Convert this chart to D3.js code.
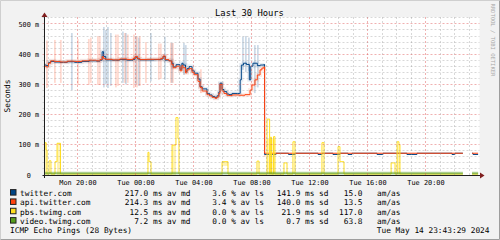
<!DOCTYPE html>
<html>
<head>
<meta charset="utf-8">
<script src="https://cdn.jsdelivr.net/npm/d3@7"></script>
<style>
  html, body { margin: 0; padding: 0; background: #f2f2f2; }
  svg { display: block; }
  text { font-family: "DejaVu Sans Mono", monospace; white-space: pre; }
</style>
</head>
<body>
<svg id="chart" width="500" height="240"></svg>
<script>
// time is in hours counted from Mon 00:00 (graph ends Tue 23:43:29)
var timeDomain = [17.725, 47.725];
var yMax = 523;

var xTickHours = [20, 24, 28, 32, 36, 40, 44];
var xTickLabels = ["Mon 20:00", "Tue 00:00", "Tue 04:00", "Tue 08:00", "Tue 12:00", "Tue 16:00", "Tue 20:00"];
var yTicks = [0, 100, 200, 300, 400, 500];
var yTickLabels = ["0  ", "100 m", "200 m", "300 m", "400 m", "500 m"];

// median lines [hour, ms]
var twitterMedian = [
  [17.73,364],[17.85,362],[18.00,372],[18.15,376],[18.40,374],[18.80,373],[19.30,375],[19.80,373],
  [20.30,376],[20.80,378],[21.30,377],[21.55,380],[21.70,408],[21.80,392],[21.95,381],[22.40,380],
  [22.90,382],[23.40,380],[23.83,383],[23.97,390],[24.15,384],[24.31,381],[24.80,381],[25.30,382],
  [25.75,384],[25.90,392],[26.05,380],[26.30,378],[26.50,370],[26.60,358],[26.80,365],[27.07,350],
  [27.20,370],[27.28,364],[27.45,342],[27.55,352],[27.70,359],[27.90,345],[28.05,337],[28.31,318],
  [28.45,292],[28.60,285],[28.93,270],[29.10,265],[29.28,260],[29.48,256],[29.62,262],[29.75,275],
  [29.83,304],[29.97,283],[30.10,276],[30.30,268],[30.45,266],[30.66,270],[31.15,270],[31.22,315],
  [31.30,364],[31.45,370],[31.65,366],[31.85,315],[31.95,360],[32.10,370],[32.40,362],[32.60,364],
  [32.86,366],[32.90,68],[33.69,72],[34.55,68],[35.00,72],[36.59,68],[36.86,72],[37.62,68],
  [38.10,72],[38.66,68],[38.93,72],[40.66,68],[41.07,72],[42.72,68],[43.41,72],[45.83,68],
  [46.03,72],[46.58,72],[46.59,null],[47.21,72],[47.28,68],[47.63,68],[47.64,null]
];
var apiMedian = [
  [17.73,360],[17.85,358],[18.00,370],[18.15,378],[18.40,376],[18.80,374],[19.30,377],[19.80,376],
  [20.30,378],[20.80,380],[21.30,378],[21.55,382],[21.70,392],[21.80,385],[21.95,383],[22.40,381],
  [22.90,384],[23.40,382],[23.83,386],[23.97,392],[24.15,385],[24.31,382],[24.80,383],[25.30,383],
  [25.75,386],[25.90,394],[26.05,382],[26.30,378],[26.50,366],[26.60,355],[26.80,360],[27.07,345],
  [27.20,362],[27.28,355],[27.45,338],[27.55,348],[27.70,352],[27.90,340],[28.05,332],[28.31,310],
  [28.45,290],[28.60,278],[28.93,266],[29.10,262],[29.28,257],[29.48,254],[29.62,258],[29.75,270],
  [29.83,300],[29.97,278],[30.10,270],[30.30,264],[30.45,263],[30.66,265],[31.15,264],[31.55,266],
  [31.90,281],[32.03,298],[32.24,315],[32.40,331],[32.59,348],[32.72,354],[32.86,358],[32.90,72],
  [46.58,72],[46.59,null],[47.21,72],[47.63,72],[47.64,null]
];
var pbsMedian = [
  [17.73,107],[17.83,83],[17.90,3],[18.04,47],[18.17,3],[18.45,44],[18.59,105],[18.83,3],
  [24.86,75],[24.93,44],[25.07,3],[26.52,99],[26.79,190],[26.93,120],[27.00,3],[29.97,44],
  [30.38,3],[32.38,46],[32.52,3],[33.07,185],[33.25,3],[33.30,125],[33.38,3],[33.52,127],
  [33.62,3],[34.24,40],[34.45,3],[34.86,110],[35.00,3],[36.86,107],[37.00,3],[37.97,94],
  [38.10,44],[38.38,3],[41.63,40],[41.90,3],[42.04,110],[42.17,100],[42.24,3],[46.58,3],
  [46.59,null],[47.21,3],[47.63,3],[47.64,null]
];
var videoMedian = [[17.73,6],[46.58,6],[46.59,null],[47.21,6],[47.63,6],[47.64,null]];

// smoke: [hour, lo ms, hi ms]
var twitterSmoke = [
  [19.55,281,470],[21.76,290,490],[21.90,300,480],[22.04,288,490],[22.24,295,470],[23.07,305,475],
  [23.28,300,470],[23.97,300,460],[24.17,295,455],[25.00,310,470],[25.97,315,458],[26.45,305,437],
  [27.28,331,437],[27.41,340,430],[31.35,348,458],[31.55,340,460],[31.76,345,455],[32.17,271,430],
  [32.38,290,430]
];
var apiSmoke = [
  [17.83,288,445],[18.38,305,447],[18.79,305,447],[19.97,298,450],[20.72,298,450],[20.86,305,455],
  [21.35,298,460],[21.48,298,460],[22.59,290,465],[22.73,295,465],[23.21,305,470],[23.41,305,465],
  [23.83,288,465],[24.04,290,460],[24.24,295,460],[24.66,305,440],[25.55,315,435],[25.69,318,435],
  [26.38,305,437],[26.52,305,437],[28.45,271,350],[32.86,60,358]
];
// smoke spans: [from hour, to hour, lo ms, hi ms]
var pbsSmoke = [
  [17.73,17.90,0,107],[18.59,18.83,0,105],[26.52,26.79,0,99],[29.97,30.38,30,44],
  [33.07,33.62,0,120],[42.04,42.24,0,100]
];
var videoSmoke = [[17.73,46.58,1,11],[47.21,47.63,1,11]];

var legendNames = ["twitter.com", "api.twitter.com", "pbs.twimg.com", "video.twimg.com"];
var legendColors = ["#004586", "#ff420e", "#ffde20", "#579d1c"];
var legendMedian = ["217.0", "214.3", "12.5", "7.2"];
var legendLoss = ["3.6", "3.4", "0.0", "0.0"];
var legendSd = ["141.9", "140.0", "21.9", "0.7"];
var legendAmAs = ["15.0", "13.5", "117.0", "63.8"];

var svg = d3.select("#chart");
var plotLeft = 44.5, plotRight = 479.5, plotTop = 17, plotBottom = 175;

var x = d3.scaleLinear().domain(timeDomain).range([plotLeft, plotRight]);
var y = d3.scaleLinear().domain([0, yMax]).range([plotBottom, plotTop]);

//background and shading
svg.append("rect").attr("width", 500).attr("height", 240).attr("fill", "#f2f2f2");
svg.append("path").attr("d", "M0.5,239.5V0.5H499.5").attr("fill", "none").attr("stroke", "#cfcfcf");
svg.append("path").attr("d", "M0.5,239.5H499.5V0.5").attr("fill", "none").attr("stroke", "#9e9e9e");
svg.append("rect").attr("x", plotLeft).attr("y", plotTop)
  .attr("width", plotRight - plotLeft).attr("height", plotBottom - plotTop).attr("fill", "#fff");

svg.append("clipPath").attr("id", "plot")
  .append("rect").attr("x", plotLeft).attr("y", plotTop)
  .attr("width", plotRight - plotLeft).attr("height", plotBottom - plotTop + 1);
var plot = svg.append("g").attr("clip-path", "url(#plot)");

var line = d3.line()
  .defined(function(d) { return d[1] != null; })
  .x(function(d) { return x(d[0]); })
  .y(function(d) { return y(d[1]); })
  .curve(d3.curveStepAfter);

var barW = x(timeDomain[0] + 0.12) - x(timeDomain[0]);

function drawSmoke(data, color, op) {
  plot.append("g").selectAll("rect")
    .data(data).enter().append("rect")
    .attr("x", function(d) { return x(d[0]); })
    .attr("width", barW)
    .attr("y", function(d) { return y(d[2]); })
    .attr("height", function(d) { return y(d[1]) - y(d[2]); })
    .attr("fill", color).attr("opacity", op);
}
function drawSpans(data, color, op) {
  plot.append("g").selectAll("rect")
    .data(data).enter().append("rect")
    .attr("x", function(d) { return x(d[0]); })
    .attr("width", function(d) { return x(d[1]) - x(d[0]); })
    .attr("y", function(d) { return y(d[3]); })
    .attr("height", function(d) { return y(d[2]) - y(d[3]); })
    .attr("fill", color).attr("opacity", op);
}
function drawLine(data, color, w, op) {
  plot.append("path").datum(data)
    .attr("d", line).attr("fill", "none")
    .attr("stroke", color).attr("stroke-width", w).attr("opacity", op);
}
//the noisy morning part gets a soft smoke halo round its median
function busy(data) {
  return data.filter(function(d) { return d[1] != null && d[1] > 150; });
}

drawSmoke(twitterSmoke, legendColors[0], 0.2);
drawSmoke(apiSmoke, legendColors[1], 0.2);
drawLine(busy(twitterMedian), legendColors[0], 4, 0.1);
drawLine(busy(apiMedian), legendColors[1], 4, 0.1);
drawLine(twitterMedian, legendColors[0], 1, 1);
drawLine(apiMedian, legendColors[1], 1, 1);
drawSpans(pbsSmoke, legendColors[2], 0.35);
drawLine(pbsMedian, legendColors[2], 1, 1);
drawSpans(videoSmoke, legendColors[3], 0.35);
drawLine(videoMedian, legendColors[3], 1, 0.7);

//grid on top, rrdtool style
var grid = svg.append("g");
var hours = d3.range(18, 48);
grid.selectAll("line.vx")
  .data(hours).enter().append("line")
  .attr("x1", function(d) { return Math.round(x(d)) + 0.5; })
  .attr("x2", function(d) { return Math.round(x(d)) + 0.5; })
  .attr("y1", plotTop).attr("y2", plotBottom + 2)
  .attr("stroke", function(d) { return d % 4 == 0 ? "rgba(222,79,79,0.45)" : "rgba(143,143,143,0.35)"; })
  .attr("stroke-dasharray", "2,2");
var levels = d3.range(20, 521, 20);
grid.selectAll("line.hy")
  .data(levels).enter().append("line")
  .attr("x1", plotLeft - 2).attr("x2", plotRight)
  .attr("y1", function(d) { return Math.floor(y(d)) + 0.5; })
  .attr("y2", function(d) { return Math.floor(y(d)) + 0.5; })
  .attr("stroke", function(d) { return d % 100 == 0 ? "rgba(222,79,79,0.45)" : "rgba(143,143,143,0.35)"; })
  .attr("stroke-dasharray", "2,2");

//axes
svg.append("line").attr("x1", plotLeft - 2).attr("x2", plotRight + 1)
  .attr("y1", plotBottom + 0.5).attr("y2", plotBottom + 0.5).attr("stroke", "#1f1f1f");
svg.append("line").attr("x1", plotLeft).attr("x2", plotLeft)
  .attr("y1", plotBottom + 3).attr("y2", plotTop - 2).attr("stroke", "#1f1f1f");
svg.append("path").attr("d", "M480,172.5L484.5,175.5L480,178.5Z").attr("fill", "#801f1f");
svg.append("path").attr("d", "M41.5,17L44.5,12.5L47.5,17Z").attr("fill", "#801f1f");

var xAxis = d3.axisBottom(x).tickValues(xTickHours)
  .tickFormat(function(d, i) { return xTickLabels[i]; })
  .tickSize(0);
var gx = svg.append("g").attr("transform", "translate(0," + plotBottom + ")").call(xAxis);
gx.select(".domain").remove();
gx.selectAll("text").attr("y", 9.5).attr("dy", null)
  .style("font-size", "6.9px").style("font-family", "DejaVu Sans Mono").attr("fill", "#000");

var yAxis = d3.axisLeft(y).tickValues(yTicks)
  .tickFormat(function(d, i) { return yTickLabels[i]; })
  .tickSize(0).tickPadding(5.5);
var gy = svg.append("g").attr("transform", "translate(" + plotLeft + ",0)").call(yAxis);
gy.select(".domain").remove();
gy.selectAll("text").attr("xml:space", "preserve")
  .style("font-size", "6.8px").style("font-family", "DejaVu Sans Mono").attr("fill", "#000");

//titles
svg.append("text").text("Last 30 Hours")
  .attr("x", 249.5).attr("y", 16).attr("text-anchor", "middle")
  .style("font-size", "8.8px");
svg.append("text").text("Seconds")
  .attr("transform", "translate(10,96) rotate(-90)").attr("text-anchor", "middle")
  .style("font-size", "7.8px");
svg.append("text").text("RRDTOOL / TOBI OETIKER")
  .attr("transform", "translate(490.8,3.5) rotate(90)")
  .attr("fill", "#a8a8a8").style("font-size", "5.5px");

//legend
var legend = svg.append("g").style("font-size", "7.8px");
var rows = legend.selectAll("g").data(legendNames).enter().append("g")
  .attr("transform", function(d, i) { return "translate(0," + (195.9 + i * 9.33) + ")"; });
rows.append("rect").attr("x", 10.5).attr("y", -6.3).attr("width", 5.5).attr("height", 5.5)
  .attr("fill", function(d, i) { return legendColors[i]; })
  .attr("stroke", "#222").attr("stroke-width", 1);
rows.append("text").attr("x", 20).text(function(d) { return d; });
rows.append("text").attr("x", 190.5).attr("text-anchor", "end")
  .text(function(d, i) { return legendMedian[i] + " ms av md"; });
rows.append("text").attr("x", 264).attr("text-anchor", "end")
  .text(function(d, i) { return legendLoss[i] + " % av ls"; });
rows.append("text").attr("x", 328.5).attr("text-anchor", "end")
  .text(function(d, i) { return legendSd[i] + " ms sd"; });
rows.append("text").attr("x", 362.5).attr("text-anchor", "end")
  .text(function(d, i) { return legendAmAs[i]; });
rows.append("text").attr("x", 377).text("am/as");

legend.append("text").text("ICMP Echo Pings (28 Bytes)").attr("x", 10).attr("y", 233.3);
legend.append("text").text("Tue May 14 23:43:29 2024").attr("x", 489.5).attr("y", 233.3).attr("text-anchor", "end");
</script>
</body>
</html>
